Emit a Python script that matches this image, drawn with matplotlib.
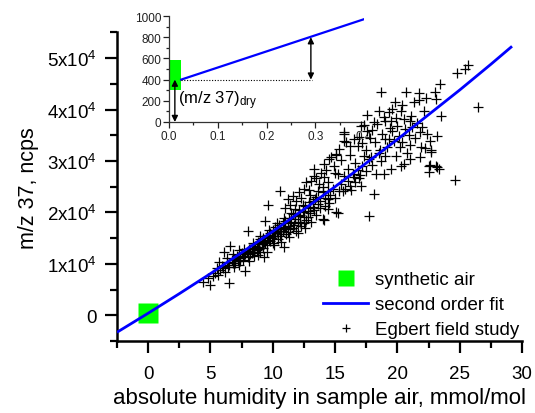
import matplotlib
matplotlib.use("Agg")
import matplotlib.pyplot as plt
from matplotlib.ticker import MultipleLocator, FuncFormatter
from matplotlib.lines import Line2D

plt.rcParams['font.family'] = ['Liberation Sans', 'DejaVu Sans']
plt.rcParams['mathtext.fontset'] = 'custom'
plt.rcParams['mathtext.rm'] = 'Liberation Sans'
plt.rcParams['mathtext.it'] = 'Liberation Sans:italic'

# ---------------- data ----------------
synth_x = [0.0]
synth_y = [440]

fit_x = [-2.5, 0, 2.5, 5, 7.5, 10, 12.5, 15, 17.5, 20, 22.5, 25, 27.5, 29.2]
fit_y = [-3300, 400, 4200, 8100, 12200, 16300, 20600, 25000, 29600, 34200,
         39000, 43800, 48800, 52300]

inset_fit_x = [0.025, 0.40]
inset_fit_y = [400, 970]

egbert_x = [
    4.4, 5.0, 4.8, 5.2, 5.4, 5.6, 5.8, 5.5, 6.0, 6.2, 6.5, 6.1, 6.6, 6.3, 6.5, 6.8, 6.9, 7.0, 7.1, 7.2,
    7.3, 7.4, 7.5, 7.6, 7.7, 7.8, 7.9, 8.0, 8.0, 8.1, 8.2, 8.3, 8.4, 8.5, 8.6, 8.7, 8.8, 8.9, 9.0, 9.0,
    9.1, 9.2, 9.3, 9.3, 9.4, 9.5, 9.5, 9.6, 9.7, 9.8, 9.9, 10.0, 10.0, 10.1, 10.2, 10.3, 10.4, 10.5, 10.6, 10.6,
    10.7, 10.8, 10.9, 10.9, 11.0, 11.1, 11.2, 11.3, 11.4, 11.5, 11.6, 11.7, 11.8, 11.9, 12.0, 12.1, 12.2, 12.3, 12.4, 12.5,
    12.6, 12.7, 12.8, 12.9, 13.0, 13.1, 13.2, 13.3, 13.4, 13.5, 13.6, 13.8, 14.0, 14.1, 14.2, 14.4, 14.5,
    5.9, 6.4, 6.7, 6.9, 7.0, 7.2, 7.4, 7.6, 7.8, 8.0, 8.2, 8.3, 8.5, 8.7, 8.9, 9.1, 9.2, 9.4, 9.6, 9.8,
    10.0, 10.2, 10.4, 10.6, 10.8, 11.0, 11.2, 11.4, 11.6, 11.8, 12.0, 12.2, 12.5, 12.8, 13.0, 7.3, 7.7, 8.4, 9.0, 9.7,
    10.3, 10.9, 11.5, 6.3, 6.8, 5.7, 8.1, 8.8, 9.5, 10.1, 10.7, 11.3, 12.0, 12.6,
    11.2, 11.4, 11.6, 11.9, 12.1, 12.3, 12.5, 12.7, 12.9, 13.1, 13.3, 13.3, 13.5, 13.7, 13.9, 14.1, 14.1, 14.3, 14.4, 14.5,
    14.7, 14.9, 15.1, 15.1, 15.3, 15.5, 15.7, 15.7, 15.7, 15.9, 16.2, 16.5, 16.8, 16.9, 17.1, 17.3, 17.6, 18.1, 18.4, 19.0,
    19.5, 11.0, 11.8, 12.4, 13.0, 13.6, 14.0, 14.4, 15.0, 15.6, 15.2, 15.7, 16.0, 16.5, 17.1, 16.6, 16.2,
    13.2, 13.5, 13.8, 14.0, 14.2, 14.4, 14.6, 14.8, 15.0, 15.1, 15.2, 15.3, 15.5, 15.8, 16.0, 16.2, 16.4, 16.6, 16.8, 17.0,
    17.2, 17.3, 17.5, 17.7, 17.7, 17.9, 18.1, 18.0, 18.3, 18.5, 18.7, 18.9, 19.0, 19.2, 19.5, 19.7, 19.9, 20.2, 20.3, 20.5,
    21.0, 21.9, 21.8, 22.2, 22.5, 22.5, 22.6, 22.6, 22.7, 22.7, 23.1, 23.2, 23.2, 23.3, 24.6, 26.5, 16.3, 16.9,
    18.5, 18.7, 19.3, 19.8, 20.0, 20.3, 20.7, 21.0, 21.1, 21.3, 21.7, 21.7, 22.1, 22.3, 23.0, 23.1, 23.4, 23.5, 24.8, 25.4,
    25.7, 19.0, 19.3, 19.6, 20.1, 20.4, 20.6, 20.9, 21.2, 21.4, 21.6, 21.0, 20.8, 19.4, 18.8, 18.2, 18.6, 17.8, 17.5, 17.2,
    19.9, 20.5, 21.8, 22.0, 22.4, 18.0, 18.9, 19.6, 20.4, 17.6,
]
egbert_y = [
    6400, 5800, 7200, 7600, 8300, 7900, 8800, 9200, 9100, 8500, 6200, 12300, 13400, 10400, 9800, 10100, 9400, 10900, 11600, 10500,
    9800, 11200, 12100, 10800, 11500, 8600, 12300, 16300, 11300, 12800, 11900, 13100, 12400, 11600, 13500, 12700, 14200, 13300, 12400, 14800,
    13800, 15100, 11300, 14300, 18300, 15600, 13700, 21400, 14600, 16000, 15000, 14100, 16500, 15400, 17200, 16100, 14900, 17600, 24100, 16400,
    15800, 17900, 13200, 16900, 18400, 15900, 17300, 19000, 16700, 18100, 19600, 17500, 18800, 16400, 19300, 20400, 18200, 17400, 20000, 19100,
    21300, 18600, 20200, 22000, 19800, 18100, 21000, 20500, 22600, 19500, 21700, 20900, 18700, 18500, 22900, 20600, 21800,
    9600, 9300, 10700, 11000, 10200, 11400, 10600, 11900, 12000, 12500, 12900, 12100, 13000, 13800, 12900, 14400, 13100, 14000, 15200, 14400,
    15500, 16000, 16800, 15500, 16400, 17100, 16200, 18000, 17000, 19300, 17900, 19500, 18000, 19200, 20800, 12600, 12900, 14100, 15500, 16600,
    17900, 18900, 19800, 11200, 12000, 10300, 10600, 11800, 12300, 13600, 14200, 15300, 16000, 17000,
    22600, 21500, 23100, 22200, 23900, 22800, 24600, 25900, 24400, 26100, 27000, 28400, 26600, 25500, 27600, 29400, 26900, 28200, 26000, 30400,
    30700, 29000, 31100, 31300, 32400, 30100, 35200, 33900, 35600, 33700, 33000, 34200, 32900, 34600, 36800, 37000, 35800, 37500, 37100, 37800,
    37700, 20800, 20600, 21400, 23300, 24100, 24900, 24100, 27700, 24100, 27400, 27100, 28400, 26900, 25100, 29600, 31200,
    22300, 23000, 22200, 23900, 21200, 22600, 23400, 24500, 22900, 20000, 19800, 24200, 25600, 24600, 26100, 25200, 27500, 26000, 28200, 27300,
    29100, 30900, 28000, 19300, 30300, 30700, 23500, 29200, 27400, 31600, 30000, 27400, 30900, 32800, 28400, 33800, 30900, 32700, 29000, 29400,
    30400, 32700, 30700, 32500, 29000, 27800, 29200, 33900, 32100, 31700, 29000, 28800, 34800, 28400, 26400, 40500, 24400, 26700,
    39700, 43400, 39500, 41400, 36800, 39700, 43400, 37800, 38700, 41500, 43200, 41800, 39700, 42200, 43400, 42000, 45000, 38700, 47100, 47900,
    48600, 34200, 34200, 35800, 34900, 33700, 36200, 35100, 36600, 34400, 37300, 33200, 31600, 36400, 35300, 33600, 32100, 34400, 32200, 33500,
    38300, 38100, 35600, 36700, 35300, 36000, 38600, 40200, 40900, 38900,
]

x_label = "absolute humidity in sample air, mmol/mol"
y_label = "m/z 37, ncps"
legend_labels = ["synthetic air", "second order fit", "Egbert field study"]
dry_label = r"(m/z 37)$_{\mathregular{dry}}$"

GREEN = "#00ff00"
BLUE = "#0000ff"

fig = plt.figure(figsize=(5.35, 4.14), dpi=100)
ax = fig.add_axes([0.2187, 0.1739, 0.9757 - 0.2187, 0.9193 - 0.1739])
ins = fig.add_axes([0.3159, 0.7029, 0.6804 - 0.3159, 0.9589 - 0.7029])

# ---------------- main axes ----------------
ax.plot(fit_x, fit_y, color=BLUE, lw=2.0, zorder=3, solid_capstyle='butt')
ax.scatter(egbert_x, egbert_y, marker='+', s=48, c='black', linewidths=0.9, zorder=2)
ax.plot(synth_x, synth_y, 's', color=GREEN, ms=14.5, mec='none', zorder=2.5)

ax.set_xlim(-2.5, 30)
ax.set_ylim(-5000, 55000)
for s in ['top', 'right']:
    ax.spines[s].set_visible(False)
for s in ['left', 'bottom']:
    ax.spines[s].set_linewidth(1.8)
ax.xaxis.set_major_locator(MultipleLocator(5))
ax.xaxis.set_minor_locator(MultipleLocator(2.5))
ax.yaxis.set_major_locator(MultipleLocator(10000))
ax.yaxis.set_minor_locator(MultipleLocator(5000))

def yfmt(v, pos):
    if abs(v) < 1e-6:
        return "0"
    return r"$\mathregular{%dx10^{4}}$" % round(v / 10000)

ax.yaxis.set_major_formatter(FuncFormatter(yfmt))
ax.tick_params(which='major', length=8.5, width=1.6, labelsize=13.5, pad=6)
ax.tick_params(which='minor', length=5, width=1.6)
ax.tick_params(axis='x', which='major', pad=8.5)
ax.set_xlabel(x_label, fontsize=16, labelpad=4)
ax.set_ylabel(y_label, fontsize=15.5, labelpad=6)

handles = [
    Line2D([], [], marker='s', color=GREEN, ls='none', ms=11, mec='none'),
    Line2D([], [], color=BLUE, lw=2.0),
    Line2D([], [], marker='+', color='black', ls='none', ms=6, mew=0.9),
]
ax.legend(handles, legend_labels, loc='lower right', bbox_to_anchor=(1.0, 0.0),
          frameon=False, fontsize=13.5, handlelength=2.4, handletextpad=0.35,
          labelspacing=0.42, borderaxespad=0.0, borderpad=0.15)

ax.patch.set_visible(False)
ax.set_zorder(2)
ins.set_zorder(1)

# ---------------- inset ----------------
ins.patch.set_visible(False)
ins.bar(0.0125, 285, width=0.025, bottom=300, color=GREEN, zorder=2)
ins.plot(inset_fit_x, inset_fit_y, color=BLUE, lw=1.6, zorder=3)
ins.plot([0.025, 0.293], [400, 400], color='black', lw=0.8, ls=(0, (1, 1.5)), zorder=3)
arrow_kw = dict(arrowstyle='<|-|>', color='black', lw=1.0, mutation_scale=9,
                shrinkA=0, shrinkB=0)
ins.annotate('', xy=(0.012, 0), xytext=(0.012, 400), arrowprops=arrow_kw, zorder=4)
ins.annotate('', xy=(0.291, 400), xytext=(0.291, 800), arrowprops=arrow_kw, zorder=4)
ins.text(0.018, 215, dry_label, fontsize=12, va='center', ha='left')

ins.set_xlim(0, 0.4)
ins.set_ylim(0, 1000)
for s in ['top', 'right']:
    ins.spines[s].set_visible(False)
for s in ['left', 'bottom']:
    ins.spines[s].set_linewidth(0.9)
    ins.spines[s].set_color('#333333')
ins.xaxis.set_major_locator(MultipleLocator(0.1))
ins.xaxis.set_minor_locator(MultipleLocator(0.05))
ins.yaxis.set_major_locator(MultipleLocator(200))
ins.yaxis.set_minor_locator(MultipleLocator(100))
ins.xaxis.set_major_formatter(FuncFormatter(lambda v, p: "%.1f" % v))
ins.tick_params(which='major', length=4, width=0.9, labelsize=8.5, pad=1.5, colors='#222222')
ins.tick_params(which='minor', length=2.5, width=0.9, colors='#222222')

fig.savefig("out.png", dpi=100, facecolor='white')
